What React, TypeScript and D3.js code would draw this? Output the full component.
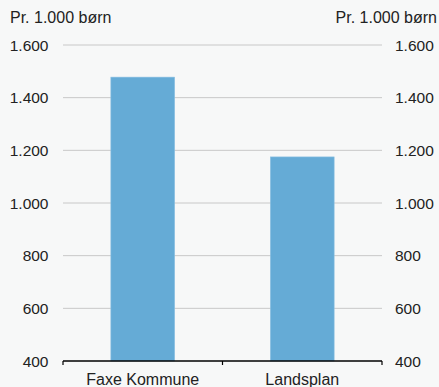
import React from "react";
import * as d3 from "d3";

const categories = ["Faxe Kommune", "Landsplan"];
const values = [1478, 1175];
const yTicks = [400, 600, 800, 1000, 1200, 1400, 1600];
const unitLabel = "Pr. 1.000 børn";

const W = 439;
const H = 387;
const margin = { left: 63, right: 57, top: 45, bottom: 26 };

export default function App() {
  const x = d3
    .scaleBand<string>()
    .domain(categories)
    .range([margin.left, W - margin.right])
    .paddingInner(0.6)
    .paddingOuter(0.3);
  const y = d3
    .scaleLinear()
    .domain([400, 1600])
    .range([H - margin.bottom, margin.top]);
  const fmt = (v: number) => d3.format(",")(v).replace(/,/g, ".");
  const font = "'Liberation Sans', Arial, Helvetica, sans-serif";
  const x0 = margin.left;
  const x1 = W - margin.right;
  const baseY = y(400);
  const step = (x1 - x0) / categories.length;
  return (
    <svg
      width={W}
      height={H}
      style={{ position: "absolute", left: 0, top: 0, background: "#f7f8f8" }}
      fontFamily={font}
      fontSize={16}
    >
      <rect x={0} y={0} width={W} height={H} fill="#f7f8f8" />
      <text x={10} y={23} fill="#222">{unitLabel}</text>
      <text x={437} y={23} fill="#222" textAnchor="end">{unitLabel}</text>
      {yTicks.map((t) => (
        <g key={t}>
          {t !== 400 && (
            <line x1={x0} x2={x1} y1={y(t)} y2={y(t)} stroke="#c8c8c8" strokeWidth={1} />
          )}
          <text x={48.5} y={y(t) + 5.5} textAnchor="end" fill="#222" fontSize={15.5}>{fmt(t)}</text>
          <text x={395} y={y(t) + 5.5} textAnchor="start" fill="#222" fontSize={15.5}>{fmt(t)}</text>
        </g>
      ))}
      {categories.map((c, i) => (
        <rect
          key={c}
          x={x(c)}
          y={y(values[i])}
          width={x.bandwidth()}
          height={baseY - y(values[i])}
          fill="#65abd6"
          stroke="#8cc0e2"
          strokeWidth={0.6}
        />
      ))}
      <line x1={x0} x2={x1} y1={baseY} y2={baseY} stroke="#000" strokeWidth={1.5} />
      {d3.range(categories.length + 1).map((i) => (
        <line
          key={i}
          x1={x0 + i * step}
          x2={x0 + i * step}
          y1={baseY}
          y2={baseY + 4}
          stroke="#000"
          strokeWidth={1.2}
        />
      ))}
      {categories.map((c) => (
        <text key={c} x={x(c)! + x.bandwidth() / 2} y={385} textAnchor="middle" fill="#222">
          {c}
        </text>
      ))}
    </svg>
  );
}
